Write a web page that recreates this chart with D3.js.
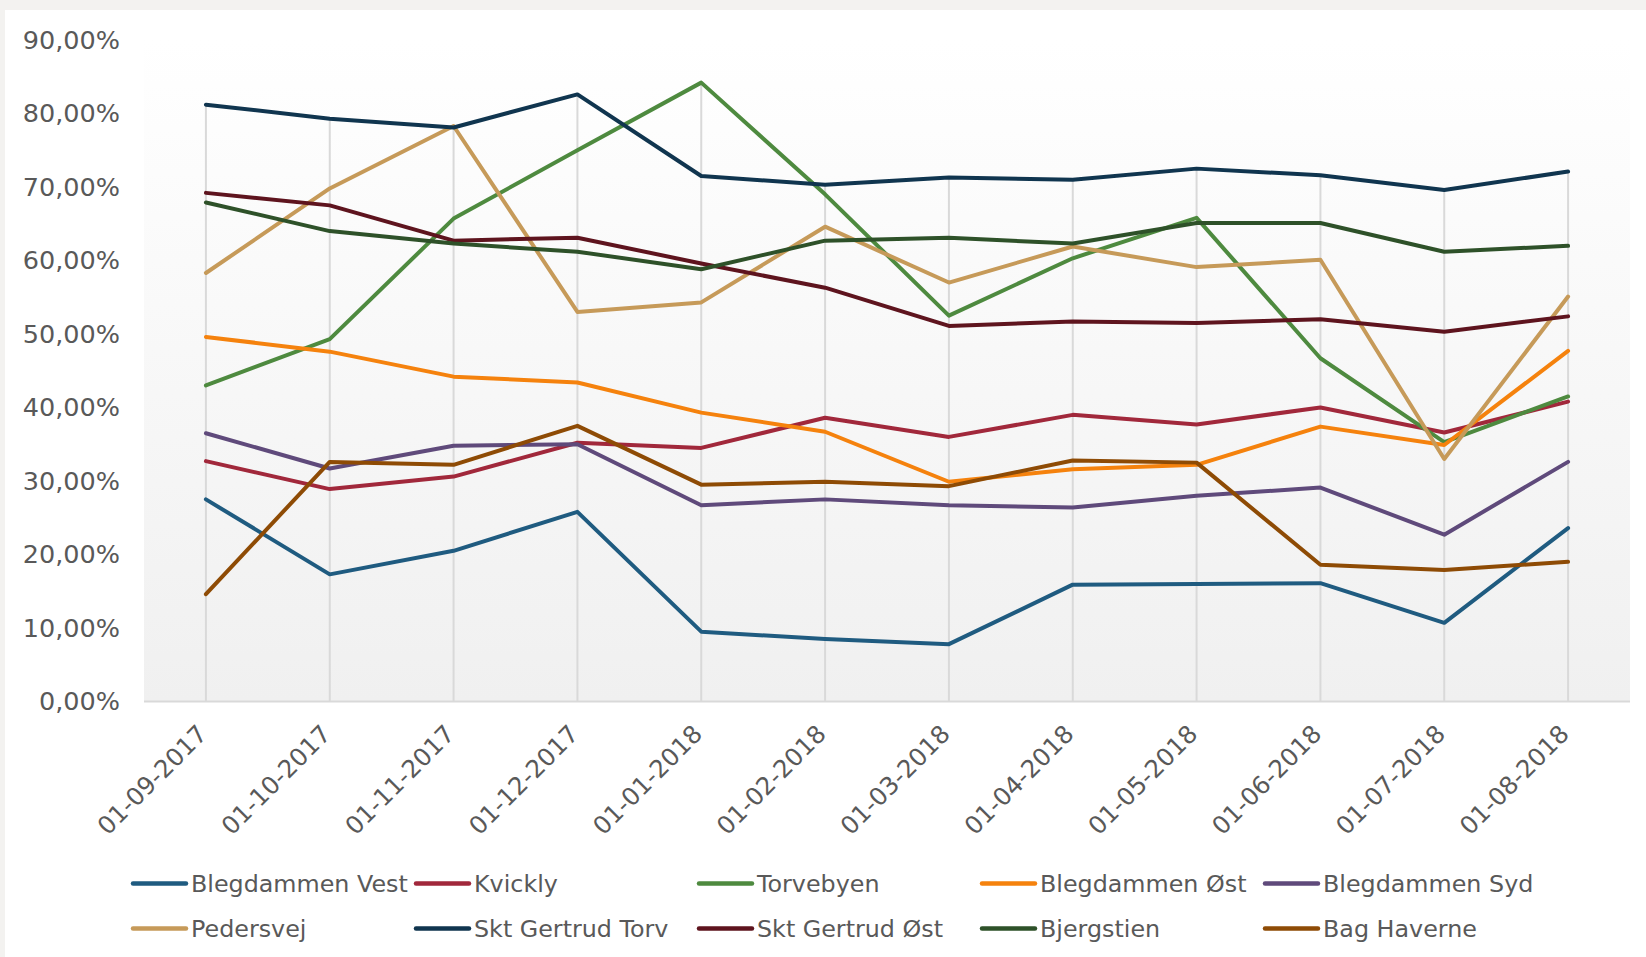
<!DOCTYPE html>
<html>
<head>
<meta charset="utf-8">
<script src="https://cdn.jsdelivr.net/npm/d3@7"></script>
<style>
  body { margin: 0; background: #f3f2f0; }
  svg { display: block; }
  text { font-family: "DejaVu Sans", Verdana, sans-serif; fill: #595959; }
</style>
</head>
<body>
<div id="chart"></div>
<script>
var width = 1646, height = 957;
var margin = { top: 40, right: 16, bottom: 256, left: 144 };

// kategorier (x-akse)
var dates = ["01-09-2017", "01-10-2017", "01-11-2017", "01-12-2017", "01-01-2018", "01-02-2018",
             "01-03-2018", "01-04-2018", "01-05-2018", "01-06-2018", "01-07-2018", "01-08-2018"];
var yTicks = [0, 10, 20, 30, 40, 50, 60, 70, 80, 90];

var names = ["Blegdammen Vest", "Kvickly", "Torvebyen", "Blegdammen Øst", "Blegdammen Syd",
             "Pedersvej", "Skt Gertrud Torv", "Skt Gertrud Øst", "Bjergstien", "Bag Haverne"];
var colors = ["#1f5b80", "#a1283b", "#4e8a3f", "#f5820d", "#5f4a7b",
              "#c69a59", "#10354f", "#5e141e", "#2e5129", "#8e4b05"];

// værdier i procent
var blegdammenVest = [27.5, 17.3, 20.5, 25.8, 9.5, 8.5, 7.8, 15.9, 16.0, 16.1, 10.7, 23.6];
var kvickly        = [32.7, 28.9, 30.6, 35.2, 34.5, 38.6, 36.0, 39.0, 37.7, 40.0, 36.6, 40.8];
var torvebyen      = [43.0, 49.3, 65.7, 75.0, 84.2, 69.0, 52.5, 60.3, 65.8, 46.7, 35.3, 41.5];
var blegdammenOst  = [49.6, 47.6, 44.2, 43.4, 39.3, 36.7, 29.9, 31.6, 32.2, 37.4, 34.9, 47.7];
var blegdammenSyd  = [36.5, 31.7, 34.8, 35.0, 26.7, 27.5, 26.7, 26.4, 28.0, 29.1, 22.7, 32.6];
var pedersvej      = [58.3, 69.8, 78.3, 53.0, 54.3, 64.6, 57.0, 61.9, 59.1, 60.1, 33.0, 55.1];
var sktGertrudTorv = [81.2, 79.3, 78.1, 82.6, 71.5, 70.3, 71.3, 71.0, 72.5, 71.6, 69.6, 72.1];
var sktGertrudOst  = [69.2, 67.5, 62.7, 63.1, 59.6, 56.3, 51.1, 51.7, 51.5, 52.0, 50.3, 52.4];
var bjergstien     = [67.9, 64.0, 62.3, 61.2, 58.8, 62.7, 63.1, 62.3, 65.1, 65.1, 61.2, 62.0];
var bagHaverne     = [14.6, 32.6, 32.2, 37.5, 29.5, 29.9, 29.3, 32.8, 32.5, 18.6, 17.9, 19.0];

var series = [blegdammenVest, kvickly, torvebyen, blegdammenOst, blegdammenSyd,
              pedersvej, sktGertrudTorv, sktGertrudOst, bjergstien, bagHaverne];

var x = d3.scalePoint()
    .domain(dates)
    .range([margin.left, width - margin.right])
    .padding(0.5);

var y = d3.scaleLinear()
    .domain([0, 90])
    .range([701.5, margin.top]);

var svg = d3.select('#chart').append('svg')
    .attr("width", width)
    .attr("height", height);

// hvidt kort
svg.append("rect")
    .attr("x", 5).attr("y", 10)
    .attr("width", width - 5).attr("height", height - 10)
    .attr("fill", "#ffffff");

var grad = svg.append("defs").append("linearGradient")
    .attr("id", "bg").attr("x1", 0).attr("y1", 0).attr("x2", 0).attr("y2", 1);
grad.append("stop").attr("offset", "0%").attr("stop-color", "#ffffff");
grad.append("stop").attr("offset", "100%").attr("stop-color", "#f0f0f0");

svg.append("rect")
    .attr("x", margin.left).attr("y", y(90))
    .attr("width", width - margin.right - margin.left)
    .attr("height", y(0) - y(90))
    .attr("fill", "url(#bg)");

// droplines fra højeste punkt ned til aksen
svg.append("g").selectAll("line")
    .data(dates)
    .enter().append("line")
    .attr("x1", function(d) { return x(d); })
    .attr("x2", function(d) { return x(d); })
    .attr("y1", function(d, i) { return y(d3.max(series, function(s) { return s[i]; })); })
    .attr("y2", y(0))
    .attr("stroke", "#d9d9d9")
    .attr("stroke-width", 2);

svg.append("line")
    .attr("x1", margin.left).attr("x2", width - margin.right)
    .attr("y1", y(0)).attr("y2", y(0))
    .attr("stroke", "#d9d9d9")
    .attr("stroke-width", 2);

// y-akse labels
var yAxis = d3.axisLeft(y)
    .tickValues(yTicks)
    .tickSize(0)
    .tickPadding(0)
    .tickFormat(function(d) { return d + ",00%"; });

svg.append("g")
    .attr("transform", "translate(120,0)")
    .call(yAxis)
    .call(function(g) { g.select(".domain").remove(); })
    .selectAll("text")
    .style("font-size", "25.5px")
    .attr("fill", "#595959");

// x-akse labels
var xAxis = d3.axisBottom(x).tickSize(0).tickPadding(0);
svg.append("g")
    .attr("transform", "translate(0," + y(0) + ")")
    .call(xAxis)
    .call(function(g) { g.select(".domain").remove(); })
    .selectAll("text")
    .style("font-size", "24.5px")
    .attr("fill", "#595959")
    .attr("text-anchor", "end")
    .attr("y", 0)
    .attr("dy", "0.35em")
    .attr("transform", "translate(-4,28) rotate(-45)");

var line = d3.line()
    .x(function(d, i) { return x(dates[i]); })
    .y(function(d) { return y(d); });

svg.append("g").selectAll("path")
    .data(series)
    .enter().append("path")
    .attr("d", line)
    .attr("fill", "none")
    .attr("stroke", function(d, i) { return colors[i]; })
    .attr("stroke-width", 4)
    .attr("stroke-linejoin", "round")
    .attr("stroke-linecap", "round");

// legend
var legend = svg.append("g").selectAll("g")
    .data(names)
    .enter().append("g")
    .attr("transform", function(d, i) {
        return "translate(" + (133 + (i % 5) * 283) + "," + (883.5 + Math.floor(i / 5) * 45) + ")";
    });

legend.append("line")
    .attr("x1", 0).attr("x2", 53)
    .attr("stroke", function(d, i) { return colors[i]; })
    .attr("stroke-width", 4.5)
    .attr("stroke-linecap", "round");

legend.append("text")
    .attr("x", 58)
    .attr("dy", "0.35em")
    .style("font-size", "23.8px")
    .text(function(d) { return d; });
</script>
</body>
</html>
